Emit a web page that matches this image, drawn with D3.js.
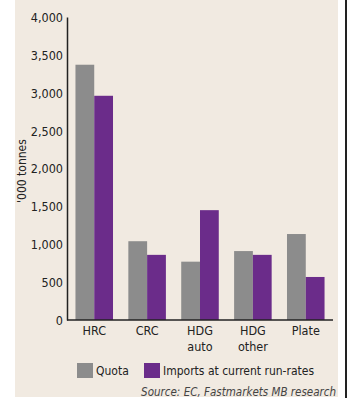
<!DOCTYPE html>
<html lang="en">
<head>
    <meta charset="UTF-8">
    <title>Quota vs imports</title>
    <script src="https://d3js.org/d3.v7.min.js"></script>
    <style>
        body { margin: 0; background: #fff; }
        text { font-family: "DejaVu Sans Condensed", "Liberation Sans Narrow", sans-serif; fill: #222; }
    </style>
</head>
<body>
    <script>
        // chart data
        const categories = [["HRC"], ["CRC"], ["HDG", "auto"], ["HDG", "other"], ["Plate"]];
        const quota = [3370, 1040, 770, 910, 1135];
        const imports = [2960, 860, 1450, 860, 568];
        const seriesNames = ["Quota", "Imports at current run-rates"];
        const yTicks = [0, 500, 1000, 1500, 2000, 2500, 3000, 3500, 4000];

        const width = 347, height = 398;
        const colors = ["#8c8c8c", "#6b2c8a"];

        const svg = d3.select('body').append('svg')
            .attr('width', width)
            .attr('height', height);

        // panel background
        svg.append('rect').attr('x', 15).attr('y', 0).attr('width', 323).attr('height', 397).attr('fill', '#f1eae1');
        svg.append('rect').attr('x', 345).attr('y', 0).attr('width', 2).attr('height', height).attr('fill', '#222');

        const x0 = d3.scaleBand()
            .domain(d3.range(categories.length))
            .range([67, 333])
            .paddingInner(0.29)
            .paddingOuter(0.16);

        const x1 = d3.scaleBand()
            .domain([0, 1])
            .range([0, x0.bandwidth()]);

        const y = d3.scaleLinear()
            .domain([0, 4000])
            .range([320, 17]);

        // bars
        const groups = svg.selectAll('.grp')
            .data(categories.map((c, i) => [quota[i], imports[i]]))
            .enter().append('g')
            .attr('transform', (d, i) => `translate(${x0(i)},0)`);

        groups.selectAll('rect')
            .data(d => d)
            .enter().append('rect')
            .attr('x', (d, j) => x1(j))
            .attr('y', d => y(d))
            .attr('width', x1.bandwidth())
            .attr('height', d => y(0) - y(d))
            .attr('fill', (d, j) => colors[j]);

        // y axis
        const yAxis = svg.append('g')
            .attr('transform', 'translate(67,0)')
            .call(d3.axisLeft(y).tickValues(yTicks).tickSize(0).tickPadding(4).tickFormat(d3.format(',')));
        yAxis.select('.domain').attr('stroke', '#222').attr('stroke-width', 1.5);
        yAxis.selectAll('text').style('font-size', '12.5px').attr('dy', '0.35em');

        // x axis
        svg.append('line')
            .attr('x1', 67).attr('x2', 333)
            .attr('y1', y(0)).attr('y2', y(0))
            .attr('stroke', '#222').attr('stroke-width', 1.5);

        const xl = svg.selectAll('.xl')
            .data(categories)
            .enter().append('text')
            .attr('text-anchor', 'middle')
            .style('font-size', '12.5px')
            .attr('transform', (d, i) => `translate(${x0(i) + x0.bandwidth() / 2},335)`);
        xl.selectAll('tspan')
            .data(d => d)
            .enter().append('tspan')
            .attr('x', 0)
            .attr('y', (d, j) => j * 16)
            .text(d => d);

        // y title
        svg.append('text')
            .attr('transform', 'translate(26,171) rotate(-90)')
            .attr('text-anchor', 'middle')
            .style('font-size', '12px')
            .text("'000 tonnes");

        // legend
        const legendX = [77, 144];
        seriesNames.forEach((name, i) => {
            svg.append('rect')
                .attr('x', legendX[i]).attr('y', 363)
                .attr('width', 16).attr('height', 15)
                .attr('fill', colors[i]);
            svg.append('text')
                .attr('x', legendX[i] + 19).attr('y', 375)
                .style('font-size', '12px')
                .text(name);
        });

        // source
        svg.append('text')
            .attr('x', 336).attr('y', 396)
            .attr('text-anchor', 'end')
            .style('font-size', '11.5px')
            .style('font-style', 'italic')
            .style('fill', '#444')
            .text('Source: EC, Fastmarkets MB research');
    </script>
</body>
</html>
